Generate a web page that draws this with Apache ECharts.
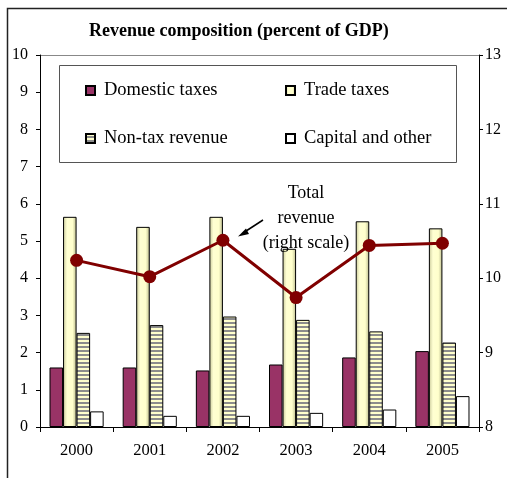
<!DOCTYPE html>
<html>
<head>
<meta charset="utf-8">
<script src="https://cdn.jsdelivr.net/npm/echarts@6/dist/echarts.min.js"></script>
<style>
  html, body { margin: 0; padding: 0; background: #fff; }
  #chart { width: 507px; height: 478px; }
</style>
</head>
<body>
<div id="chart"></div>
<script>
// Revenue composition, percent of GDP
const years = ['2000', '2001', '2002', '2003', '2004', '2005'];
const domesticTaxes = [1.60, 1.60, 1.52, 1.68, 1.87, 2.04];
const tradeTaxes = [5.65, 5.38, 5.65, 4.79, 5.53, 5.34];
const nonTaxRevenue = [2.53, 2.74, 2.97, 2.88, 2.57, 2.27];
const capitalOther = [0.42, 0.30, 0.30, 0.38, 0.47, 0.83];
const totalRevenue = [10.24, 10.02, 10.51, 9.74, 10.44, 10.47];

const SERIF = '"Liberation Serif", "Times New Roman", serif';

// horizontal grey / pale-yellow stripes for the non-tax bars
function stripePattern() {
  const c = document.createElement('canvas');
  c.width = 4; c.height = 4;
  const g = c.getContext('2d');
  g.fillStyle = '#ffffcc'; g.fillRect(0, 0, 4, 4);
  g.fillStyle = '#8c8c8c'; g.fillRect(0, 2, 4, 2);
  return { image: c, repeat: 'repeat' };
}

const tradeFill = {
  type: 'linear', x: 0, y: 0, x2: 1, y2: 0,
  colorStops: [
    { offset: 0, color: '#c9c99a' },
    { offset: 0.3, color: '#ffffd2' },
    { offset: 0.7, color: '#ffffcc' },
    { offset: 1, color: '#b8b88c' }
  ]
};

const chart = echarts.init(document.getElementById('chart'), null, { renderer: 'canvas' });

function legendAt(name, left, top) {
  return {
    data: [name], left: left, top: top, icon: 'rect',
    itemWidth: 9, itemHeight: 9, padding: 0,
    selectedMode: false,
    textStyle: { fontFamily: SERIF, fontSize: 18.5, color: '#000', padding: [0, 0, 0, 4] }
  };
}

const barBorder = { borderColor: '#000', borderWidth: 1 };

chart.setOption({
  animation: false,
  title: {
    text: 'Revenue composition (percent of GDP)',
    left: 84, top: 17,
    textStyle: { fontFamily: SERIF, fontSize: 18, fontWeight: 'bold', color: '#000' }
  },
  legend: [
    legendAt('Domestic taxes', 85, 81),
    legendAt('Trade taxes', 285, 81),
    legendAt('Non-tax revenue', 85, 129),
    legendAt('Capital and other', 285, 129)
  ],
  grid: { left: 40, right: 28, top: 55, bottom: 51, containLabel: false },
  xAxis: {
    type: 'category', data: years, boundaryGap: true,
    axisLine: { lineStyle: { color: '#000', width: 1 } },
    axisTick: { show: true, length: 5, alignWithLabel: false, lineStyle: { color: '#000' } },
    axisLabel: { fontFamily: SERIF, fontSize: 16.5, color: '#000', margin: 15 }
  },
  yAxis: [
    {
      type: 'value', min: 0, max: 10, interval: 1,
      axisLine: { show: true, lineStyle: { color: '#000' } },
      axisTick: { show: true, length: 4, lineStyle: { color: '#000' } },
      axisLabel: { fontFamily: SERIF, fontSize: 16, color: '#000', margin: 12 },
      splitLine: { show: false }
    },
    {
      type: 'value', min: 8, max: 13, interval: 1, position: 'right',
      axisLine: { show: true, lineStyle: { color: '#000' } },
      axisTick: { show: true, length: 4, lineStyle: { color: '#000' } },
      axisLabel: { fontFamily: SERIF, fontSize: 16, color: '#000', margin: 6 },
      splitLine: { show: false }
    }
  ],
  series: [
    {
      name: 'Domestic taxes', type: 'bar', data: domesticTaxes,
      barGap: '0%', barCategoryGap: '26%',
      itemStyle: Object.assign({ color: '#993366' }, barBorder)
    },
    {
      name: 'Trade taxes', type: 'bar', data: tradeTaxes,
      itemStyle: Object.assign({ color: tradeFill }, barBorder)
    },
    {
      name: 'Non-tax revenue', type: 'bar', data: nonTaxRevenue,
      itemStyle: Object.assign({ color: stripePattern() }, barBorder)
    },
    {
      name: 'Capital and other', type: 'bar', data: capitalOther,
      itemStyle: Object.assign({ color: '#ffffff' }, barBorder)
    },
    {
      name: 'Total revenue', type: 'line', yAxisIndex: 1, data: totalRevenue,
      z: 5, symbol: 'circle', symbolSize: 13,
      lineStyle: { color: '#800000', width: 3 },
      itemStyle: { color: '#800000' }
    }
  ],
  graphic: [
    // outer frame (left and top edges)
    { type: 'polyline', shape: { points: [[7.5, 478], [7.5, 8.5], [507, 8.5]] },
      style: { stroke: '#222', lineWidth: 1.5, fill: null }, silent: true },
    // plot area top edge
    { type: 'line', shape: { x1: 40, y1: 55.5, x2: 479, y2: 55.5 },
      style: { stroke: '#888', lineWidth: 1 }, silent: true },
    // legend box
    { type: 'rect', shape: { x: 59.5, y: 65.5, width: 397, height: 97 },
      style: { stroke: '#555', lineWidth: 1, fill: '#fff' }, z: -1, silent: true },
    // annotation for the line series
    { type: 'text', x: 306, y: 181,
      style: { text: 'Total\nrevenue\n(right scale)', fontFamily: SERIF, fontSize: 18,
               lineHeight: 25, fill: '#000', align: 'center', verticalAlign: 'top' },
      z: 10, silent: true },
    { type: 'line', shape: { x1: 263, y1: 220, x2: 243, y2: 233 },
      style: { stroke: '#000', lineWidth: 1.5 }, z: 10, silent: true },
    { type: 'polygon', shape: { points: [[238, 236.5], [246, 228.5], [249, 234]] },
      style: { fill: '#000' }, z: 10, silent: true }
  ]
});
</script>
</body>
</html>
